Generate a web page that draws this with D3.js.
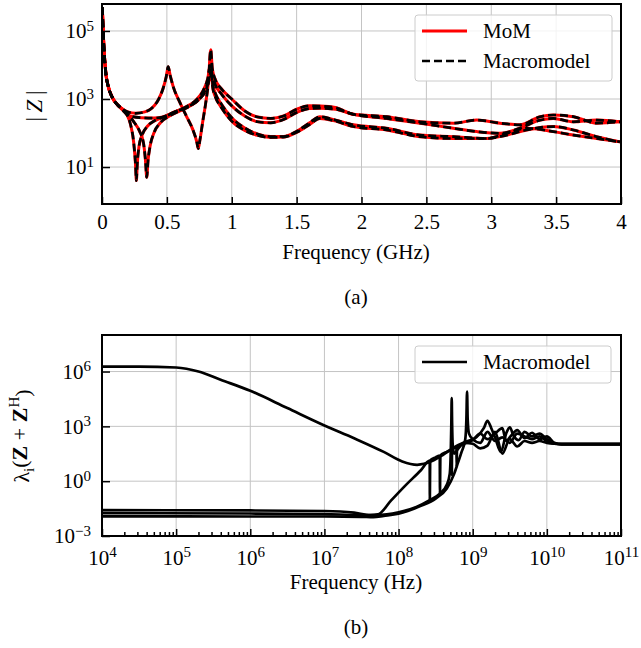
<!DOCTYPE html>
<html><head><meta charset="utf-8">
<script src="https://cdn.jsdelivr.net/npm/d3@7"></script>
<style>body{margin:0;background:#fff}svg{display:block}</style>
</head><body><svg id="c" width="641" height="648"></svg>
<script>
// ---------- DATA: panel (a) |Z| vs frequency (GHz) ----------
const zCurveA = [[0.002,5.0e5],[0.006,2.0e5],[0.01,7.9e4],[0.018,2.0e4],[0.03,5.6e3],[0.05,2.2e3],[0.08,1.1e3],[0.12,680],[0.16,500],
 [0.2,417],[0.26,380],[0.33,417],[0.38,525],[0.43,890],[0.47,2000],[0.495,4500],[0.51,8900],[0.525,5000],[0.55,2240],[0.6,794],[0.65,316],
 [0.7,126],[0.73,56],[0.742,35],[0.755,63],[0.775,200],[0.8,794],[0.82,3160],[0.838,28000],[0.85,7900],[0.87,4000],[0.92,2000],[1.0,1000],
 [1.1,447],[1.2,295],[1.3,269],[1.4,316],[1.5,500],[1.6,630],[1.68,620],[1.8,560],[1.937,355],[2.194,302],[2.451,214],[2.708,195],
 [2.888,240],[3.067,195],[3.22,174],[3.376,302],[3.478,339],[3.633,302],[3.813,195],[3.992,214]];
const zCurveB = [[0.002,5.0e5],[0.006,2.0e5],[0.01,7.9e4],[0.018,2.0e4],[0.03,5.6e3],[0.05,2.2e3],[0.08,1.1e3],[0.12,670],[0.16,490],
 [0.19,355],[0.22,178],[0.245,50],[0.258,12.6],[0.265,4.0],[0.272,12.6],[0.285,40],[0.31,89],[0.35,158],[0.4,224],[0.46,282],[0.55,400],
 [0.65,600],[0.72,890],[0.78,1780],[0.815,4000],[0.835,10000],[0.85,5000],[0.87,2800],[0.92,1410],[1.0,630],[1.1,316],[1.2,214],[1.3,200],
 [1.4,251],[1.5,400],[1.6,525],[1.68,537],[1.8,500],[1.937,355],[2.194,269],[2.451,195],[2.708,138],[2.888,110],[3.067,98],[3.22,138],
 [3.376,240],[3.478,269],[3.633,214],[3.813,240],[3.992,214]];
const zCurveC = [[0.002,5.0e5],[0.006,2.0e5],[0.01,7.9e4],[0.018,2.0e4],[0.03,5.6e3],[0.05,2.2e3],[0.08,1.1e3],[0.12,680],[0.16,500],
 [0.2,355],[0.25,200],[0.29,112],[0.32,50],[0.335,15.8],[0.345,5.0],[0.355,15.8],[0.37,40],[0.4,100],[0.45,200],[0.52,316],[0.6,447],
 [0.68,630],[0.75,1000],[0.8,2000],[0.83,5000],[0.84,6300],[0.855,2500],[0.87,1580],[0.92,708],[1.0,282],[1.1,141],[1.2,93],[1.3,79],
 [1.4,79],[1.5,112],[1.6,200],[1.68,302],[1.8,240],[1.937,174],[2.194,138],[2.451,87],[2.708,78],[2.965,69],[3.119,87],[3.273,123],
 [3.478,155],[3.633,123],[3.813,78],[3.992,55]];
const zCurveD = [[0.002,5.0e5],[0.006,2.0e5],[0.01,7.9e4],[0.018,2.0e4],[0.03,5.6e3],[0.05,2.2e3],[0.08,1.1e3],[0.12,660],[0.16,470],
 [0.2,331],[0.3,282],[0.4,275],[0.47,295],[0.56,417],[0.66,589],[0.75,1000],[0.8,1780],[0.83,4000],[0.842,5000],[0.855,2000],[0.87,1260],
 [0.92,562],[1.0,224],[1.1,120],[1.2,85],[1.3,74],[1.4,76],[1.5,105],[1.6,178],[1.68,269],[1.8,224],[1.937,155],[2.194,123],[2.451,78],
 [2.708,69],[2.965,69],[3.119,98],[3.273,138],[3.478,110],[3.633,87],[3.813,69],[3.992,55]];
const zCurves = [zCurveA, zCurveB, zCurveC, zCurveD];
const xTicksA = [0,0.5,1,1.5,2,2.5,3,3.5,4];
const xTickLabelsA = ["0","0.5","1","1.5","2","2.5","3","3.5","4"];
const yTicksA = [1e1,1e3,1e5];
const yTickExpA = ["1","3","5"];
const legendA = ["MoM","Macromodel"];

// ---------- DATA: panel (b) eigenvalues vs frequency (Hz) ----------
const eig1 = [[1e4,1.86e6],[3.16e4,1.86e6],[1e5,1.66e6],[2e5,1.0e6],[3.98e5,3.55e5],[1e6,8.9e4],[3.16e6,1.0e4],[1e7,1120],[2.51e7,224],
 [6.31e7,40],[1.12e8,12],[1.78e8,7.9],[2.82e8,12.6],[3.98e8,28],[5.62e8,71],[7.94e8,141],[1.12e9,251],[1.41e9,794],[1.58e9,2000],
 [1.78e9,794],[2e9,251],[2.4e9,40],[2.82e9,400],[3.16e9,890],[3.55e9,316],[4.17e9,178],[5.01e9,500],[6.31e9,282],[7.94e9,400],
 [1e10,200],[1.26e10,120],[1.58e10,107],[1e11,107]];
const eig2 = [[1e4,0.026],[1e6,0.025],[1e7,0.0234],[2.51e7,0.019],[4.17e7,0.0141],[5.25e7,0.0151],[7.94e7,0.089],[1.26e8,0.63],[2e8,3.98],
 [2.63e8,13.2],[2.642e8,0.095],[2.667e8,13.8],[3.16e8,20],[3.59e8,25],[3.62e8,0.22],[3.66e8,26],[4.47e8,40],[5.19e8,50],[5.22e8,2.24],
 [5.26e8,52],[6.03e8,72],[6.08e8,6.3],[6.14e8,76],[7.59e8,112],[1e9,178],[1.26e9,400],[1.58e9,200],[2e9,400],[2.51e9,794],[2.82e9,158],
 [3.31e9,316],[3.98e9,630],[5.01e9,224],[6.31e9,447],[7.94e9,200],[1e10,282],[1.26e10,126],[1.58e10,107],[1e11,107]];
const eig3 = [[1e4,0.0178],[1e6,0.017],[1e7,0.0158],[3.16e7,0.0141],[5.01e7,0.0141],[1e8,0.02],[1.74e8,0.039],[2.63e8,0.091],[3.63e8,0.214],
 [4.47e8,0.63],[4.9e8,2.51],[5.07e8,63],[5.15e8,1580],[5.21e8,3.55e4],[5.27e8,1580],[5.37e8,100],[5.62e8,32],[6.31e8,56],[7.08e8,100],
 [7.94e8,126],[1e9,112],[1.26e9,63],[1.58e9,89],[2e9,500],[2.51e9,32],[3.16e9,200],[3.98e9,79],[5.01e9,158],[6.31e9,126],[7.94e9,158],
 [1e10,126],[1.26e10,112],[1.58e10,107],[1e11,107]];
const eig4 = [[1e4,0.012],[1e6,0.0117],[1e7,0.0117],[3.16e7,0.0112],[4.57e7,0.0107],[6.31e7,0.0126],[1e8,0.0166],[2e8,0.0447],[3.16e8,0.112],
 [4.47e8,0.4],[5.62e8,2.51],[6.31e8,10],[7.08e8,40],[7.94e8,200],[8.22e8,2510],[8.39e8,7.9e4],[8.55e8,2510],[8.91e8,400],[1e9,200],
 [1.26e9,126],[1.58e9,500],[2e9,158],[2.51e9,251],[3.16e9,126],[3.98e9,400],[5.01e9,282],[6.31e9,200],[7.94e9,282],[1e10,158],
 [1.26e10,112],[1.58e10,107],[1e11,107]];
const eigCurves = [eig1, eig2, eig3, eig4];
const xTicksB = [1e4,1e5,1e6,1e7,1e8,1e9,1e10,1e11];
const xTickExpB = ["4","5","6","7","8","9","10","11"];
const yTicksB = [1e-3,1e0,1e3,1e6];
const yTickExpB = ["\u22123","0","3","6"];
const legendB = ["Macromodel"];

// ---------- DRAWING ----------
const FONT = "Liberation Serif, DejaVu Serif, Noto Serif, serif";
const svg = d3.select("#c").attr("font-family", FONT);
const FS = 21, SUP = 15;
const L = 102, R = 621;
const grid = "#c4c4c4";
const XLAB = 356;

function supLabel(sel, exps, ticks){
  sel.each(function(d){
    const i = ticks.indexOf(d);
    const t = d3.select(this); t.text(null);
    t.append("tspan").text("10");
    t.append("tspan").attr("dy", "-0.5em").attr("font-size", SUP).text(exps[i]);
  });
}
function txt(g){ return g.append("text").attr("font-family",FONT).attr("font-size",FS).attr("fill","#000"); }

// ===== panel (a) =====
const topA = 4, botA = 204;
const xA = d3.scaleLinear().domain([0,4]).range([L,R]);
const yA = d3.scaleLog().domain([0.82, 6.2e5]).range([botA, topA]);
const gA = svg.append("g");
gA.append("defs").append("clipPath").attr("id","clipA").append("rect").attr("x",L).attr("y",topA).attr("width",R-L).attr("height",botA-topA);
gA.append("g").selectAll("line").data(xTicksA.slice(1,-1)).join("line")
  .attr("x1",d=>xA(d)).attr("x2",d=>xA(d)).attr("y1",topA).attr("y2",botA).attr("stroke",grid).attr("stroke-width",1);
gA.append("g").selectAll("line").data(yTicksA).join("line")
  .attr("x1",L).attr("x2",R).attr("y1",d=>yA(d)).attr("y2",d=>yA(d)).attr("stroke",grid).attr("stroke-width",1);
const lineA = d3.line().x(d=>xA(d[0])).y(d=>yA(d[1])).curve(d3.curveMonotoneX);
const cA = gA.append("g").attr("clip-path","url(#clipA)");
cA.selectAll("path.mom").data(zCurves).join("path").attr("class","mom")
  .attr("d",lineA).attr("fill","none").attr("stroke","#ff0000").attr("stroke-width",3);
cA.selectAll("path.mac").data(zCurves).join("path").attr("class","mac")
  .attr("d",lineA).attr("fill","none").attr("stroke","#000").attr("stroke-width",2.7).attr("stroke-dasharray","8,4");
const axAx = gA.append("g").attr("transform",`translate(0,${botA})`)
  .call(d3.axisBottom(xA).tickValues(xTicksA).tickFormat((d,i)=>xTickLabelsA[i]).tickSize(-7).tickPadding(10));
const axAy = gA.append("g").attr("transform",`translate(${L},0)`)
  .call(d3.axisLeft(yA).tickValues(yTicksA).tickSize(-8).tickPadding(8));
supLabel(axAy.selectAll(".tick text"), yTickExpA, yTicksA);
[axAx, axAy].forEach(a=>{a.select(".domain").remove(); a.attr("font-family",FONT).attr("font-size",FS);
  a.selectAll(".tick line").attr("stroke-width",1.5);});
gA.append("rect").attr("x",L).attr("y",topA).attr("width",R-L).attr("height",botA-topA).attr("fill","none").attr("stroke","#000").attr("stroke-width",2);
txt(gA).attr("x",XLAB).attr("y",259).attr("text-anchor","middle").text("Frequency (GHz)");
txt(gA).attr("transform","translate(42,106) rotate(-90)").attr("text-anchor","middle").attr("font-size",23)
  .call(t=>{t.append("tspan").text("|\u2009"); t.append("tspan").attr("font-style","italic").text("Z"); t.append("tspan").text("\u2009|");});
txt(gA).attr("x",XLAB).attr("y",304).attr("text-anchor","middle").text("(a)");
const lgA = gA.append("g");
lgA.append("rect").attr("x",415).attr("y",15).attr("width",197).attr("height",66).attr("rx",3)
  .attr("fill","#fff").attr("fill-opacity",0.8).attr("stroke","#cccccc").attr("stroke-width",1);
lgA.append("line").attr("x1",422).attr("x2",467).attr("y1",31).attr("y2",31).attr("stroke","#ff0000").attr("stroke-width",3);
lgA.append("line").attr("x1",422).attr("x2",467).attr("y1",61).attr("y2",61).attr("stroke","#000").attr("stroke-width",2.7).attr("stroke-dasharray","8,4");
lgA.selectAll("text").data(legendA).join("text").attr("font-family",FONT).attr("font-size",FS)
  .attr("x",483).attr("y",(d,i)=>38+i*30).text(d=>d);

// ===== panel (b) =====
const topB = 335, botB = 536;
const xB = d3.scaleLog().domain([1e4,1e11]).range([L,R]);
const yB = d3.scaleLog().domain([1e-3,1e8]).range([botB, topB]);
const gB = svg.append("g");
gB.append("defs").append("clipPath").attr("id","clipB").append("rect").attr("x",L).attr("y",topB).attr("width",R-L).attr("height",botB-topB);
gB.append("g").selectAll("line").data(xTicksB.slice(1,-1)).join("line")
  .attr("x1",d=>xB(d)).attr("x2",d=>xB(d)).attr("y1",topB).attr("y2",botB).attr("stroke",grid).attr("stroke-width",1);
gB.append("g").selectAll("line").data(yTicksB.slice(1)).join("line")
  .attr("x1",L).attr("x2",R).attr("y1",d=>yB(d)).attr("y2",d=>yB(d)).attr("stroke",grid).attr("stroke-width",1);
const lineB = d3.line().x(d=>xB(d[0])).y(d=>yB(d[1])).curve(d3.curveMonotoneX);
gB.append("g").attr("clip-path","url(#clipB)").selectAll("path").data(eigCurves).join("path")
  .attr("d",lineB).attr("fill","none").attr("stroke","#000").attr("stroke-width",2.7).attr("stroke-linejoin","round");
const minorB = [];
xTicksB.slice(0,-1).forEach(d=>{ for(let k=2;k<10;k++) minorB.push(d*k); });
const axBm = gB.append("g").attr("transform",`translate(0,${botB})`)
  .call(d3.axisBottom(xB).tickValues(minorB).tickFormat("").tickSize(-4));
const axBx = gB.append("g").attr("transform",`translate(0,${botB})`)
  .call(d3.axisBottom(xB).tickValues(xTicksB).tickSize(-7).tickPadding(14));
supLabel(axBx.selectAll(".tick text"), xTickExpB, xTicksB);
const axBy = gB.append("g").attr("transform",`translate(${L},0)`)
  .call(d3.axisLeft(yB).tickValues(yTicksB).tickSize(-8).tickPadding(11));
supLabel(axBy.selectAll(".tick text"), yTickExpB, yTicksB);
[axBm, axBx, axBy].forEach(a=>{a.select(".domain").remove(); a.attr("font-family",FONT).attr("font-size",FS);
  a.selectAll(".tick line").attr("stroke-width",1.5);});
gB.append("rect").attr("x",L).attr("y",topB).attr("width",R-L).attr("height",botB-topB).attr("fill","none").attr("stroke","#000").attr("stroke-width",2);
txt(gB).attr("x",XLAB).attr("y",589).attr("text-anchor","middle").text("Frequency (Hz)");
txt(gB).attr("transform","translate(29,436) rotate(-90)").attr("text-anchor","middle").attr("font-size",22)
  .call(t=>{
    t.append("tspan").text("\u03bb");
    t.append("tspan").attr("font-size",SUP).attr("dy","0.3em").text("i");
    t.append("tspan").attr("dy","-0.3em").text("(");
    t.append("tspan").attr("font-weight","bold").text("Z");
    t.append("tspan").text("\u2005+\u2005");
    t.append("tspan").attr("font-weight","bold").text("Z");
    t.append("tspan").attr("font-size",SUP).attr("dy","-0.5em").text("H");
    t.append("tspan").attr("dy","0.5em").text(")");
  });
txt(gB).attr("x",XLAB).attr("y",634).attr("text-anchor","middle").text("(b)");
const lgB = gB.append("g");
lgB.append("rect").attr("x",415).attr("y",346).attr("width",196).attr("height",37).attr("rx",3)
  .attr("fill","#fff").attr("fill-opacity",0.8).attr("stroke","#cccccc").attr("stroke-width",1);
lgB.append("line").attr("x1",422).attr("x2",467).attr("y1",362).attr("y2",362).attr("stroke","#000").attr("stroke-width",2.7);
lgB.selectAll("text").data(legendB).join("text").attr("font-family",FONT).attr("font-size",FS)
  .attr("x",483).attr("y",369).text(d=>d);
</script></body></html>
